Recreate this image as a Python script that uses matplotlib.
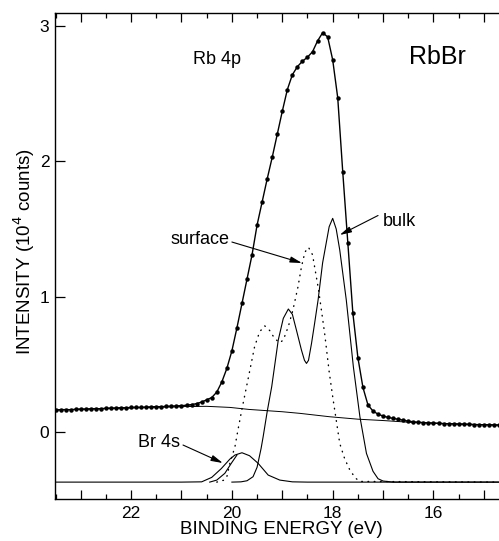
import matplotlib
matplotlib.use("Agg")
import matplotlib.pyplot as plt
from matplotlib.ticker import MultipleLocator, FuncFormatter

plt.rcParams['font.family'] = ['Liberation Sans', 'DejaVu Sans']

# ── Data (binding energy in eV, intensity in 1e4 counts) ──
data_energy = [23.5, 23.4, 23.3, 23.2, 23.1, 23.0, 22.9, 22.8, 22.7, 22.6,
               22.5, 22.4, 22.3, 22.2, 22.1, 22.0, 21.9, 21.8, 21.7, 21.6,
               21.5, 21.4, 21.3, 21.2, 21.1, 21.0, 20.9, 20.8, 20.7, 20.6,
               20.5, 20.4, 20.3, 20.2, 20.1, 20.0, 19.9, 19.8, 19.7, 19.6,
               19.5, 19.4, 19.3, 19.2, 19.1, 19.0, 18.9, 18.8, 18.7, 18.6,
               18.5, 18.4, 18.3, 18.2, 18.1, 18.0, 17.9, 17.8, 17.7, 17.6,
               17.5, 17.4, 17.3, 17.2, 17.1, 17.0, 16.9, 16.8, 16.7, 16.6,
               16.5, 16.4, 16.3, 16.2, 16.1, 16.0, 15.9, 15.8, 15.7, 15.6,
               15.5, 15.4, 15.3, 15.2, 15.1, 15.0, 14.9, 14.8, 14.7]
data_counts = [0.163, 0.165, 0.166, 0.165, 0.168, 0.170, 0.169, 0.172, 0.173, 0.172,
               0.176, 0.177, 0.178, 0.180, 0.179, 0.182, 0.183, 0.182, 0.185, 0.186,
               0.188, 0.187, 0.190, 0.191, 0.193, 0.195, 0.198, 0.203, 0.210, 0.222,
               0.238, 0.255, 0.295, 0.37, 0.47, 0.60, 0.77, 0.95, 1.13, 1.31,
               1.53, 1.70, 1.87, 2.03, 2.20, 2.37, 2.53, 2.64, 2.70, 2.74,
               2.77, 2.81, 2.89, 2.95, 2.92, 2.75, 2.47, 1.92, 1.40, 0.88,
               0.55, 0.33, 0.20, 0.155, 0.132, 0.118, 0.108, 0.101, 0.094, 0.088,
               0.080, 0.076, 0.072, 0.070, 0.067, 0.066, 0.064, 0.062, 0.061, 0.060,
               0.058, 0.058, 0.056, 0.055, 0.054, 0.054, 0.053, 0.052, 0.052]

bg_energy = [23.5, 22.0, 21.0, 20.5, 20.04, 19.66, 19.0, 18.65, 18.06, 17.5,
             17.0, 16.47, 15.5, 14.7]
bg_counts = [0.163, 0.178, 0.188, 0.190, 0.182, 0.167, 0.150, 0.138, 0.113, 0.095,
             0.085, 0.072, 0.060, 0.052]

bulk_energy = [20.0, 19.82, 19.70, 19.58, 19.50, 19.42, 19.38, 19.30, 19.21, 19.08,
               18.98, 18.88, 18.80, 18.72, 18.62, 18.56, 18.52, 18.48, 18.42, 18.36,
               18.29, 18.20, 18.07, 18.00, 17.93, 17.86, 17.73, 17.59, 17.46, 17.33,
               17.20, 17.10, 17.00, 16.80, 14.70]
bulk_counts = [-0.37, -0.368, -0.36, -0.33, -0.26, -0.12, -0.035, 0.15, 0.335, 0.68,
               0.84, 0.909, 0.87, 0.754, 0.606, 0.53, 0.507, 0.53, 0.655, 0.80,
               0.975, 1.25, 1.517, 1.579, 1.50, 1.345, 0.975, 0.483, 0.113, -0.158,
               -0.29, -0.345, -0.362, -0.37, -0.37]

surf_energy = [20.30, 20.15, 20.10, 20.04, 19.94, 19.88, 19.80, 19.71, 19.62, 19.55,
               19.45, 19.35, 19.25, 19.15, 19.05, 18.98, 18.88, 18.79, 18.69, 18.62,
               18.55, 18.48, 18.40, 18.28, 18.16, 18.07, 17.99, 17.86, 17.76, 17.66,
               17.55, 17.46, 14.70]
surf_counts = [-0.37, -0.355, -0.33, -0.23, -0.11, 0.015, 0.17, 0.335, 0.50, 0.63,
               0.74, 0.785, 0.75, 0.69, 0.66, 0.68, 0.78, 0.90, 1.07, 1.22,
               1.33, 1.365, 1.31, 1.05, 0.73, 0.446, 0.236, -0.084, -0.20, -0.28,
               -0.34, -0.365, -0.37]

br4s_energy = [23.5, 21.0, 20.60, 20.40, 20.21, 20.04, 19.94, 19.80, 19.65, 19.48,
               19.28, 19.05, 18.80, 18.50, 14.70]
br4s_counts = [-0.37, -0.37, -0.368, -0.335, -0.27, -0.20, -0.17, -0.153, -0.175, -0.231,
               -0.318, -0.355, -0.368, -0.37, -0.37]

br4s_b_energy = [20.44, 20.30, 20.14, 20.01, 19.90]
br4s_b_counts = [-0.37, -0.355, -0.305, -0.23, -0.17]

# ── Figure ──
fig = plt.figure(figsize=(4.99, 5.41), dpi=100)
ax = fig.add_axes([55 / 499, 1 - 499.3 / 541, 1 - 55 / 499, (499.3 - 13.3) / 541])

lw = 0.8
ax.plot(bg_energy, bg_counts, color="k", lw=0.7)
ax.plot(br4s_energy, br4s_counts, color="k", lw=lw)
ax.plot(br4s_b_energy, br4s_b_counts, color="k", lw=lw)
ax.plot(bulk_energy, bulk_counts, color="k", lw=lw)
ax.plot(surf_energy, surf_counts, color="k", lw=1.0, linestyle=(0, (0.5, 4.0)),
        dash_capstyle="round")
ax.plot(data_energy, data_counts, color="k", lw=1.0,
        marker="o", markersize=3.2, markeredgewidth=0)

# ── Labels and arrows ──
fs = 13
ax.text(20.30, 2.756, "Rb 4p", fontsize=fs, ha="center", va="center")
ax.text(15.93, 2.77, "RbBr", fontsize=18, ha="center", va="center")
ax.text(20.64, 1.419, "surface", fontsize=fs, ha="center", va="center")
ax.text(16.67, 1.552, "bulk", fontsize=fs, ha="center", va="center")
ax.text(21.45, -0.081, "Br 4s", fontsize=fs, ha="center", va="center")

arrow = dict(arrowstyle="-|>,head_length=0.7,head_width=0.18", lw=0.8, color="k",
             shrinkA=0, shrinkB=0)
ax.annotate("", xy=(18.61, 1.249), xytext=(20.0, 1.404), arrowprops=arrow)
ax.annotate("", xy=(17.86, 1.456), xytext=(17.10, 1.60), arrowprops=arrow)
ax.annotate("", xy=(20.18, -0.229), xytext=(20.97, -0.096), arrowprops=arrow)

# ── Axes ──
ax.set_xlim(23.51, 14.70)
ax.set_ylim(-0.497, 3.094)

ax.xaxis.set_major_locator(MultipleLocator(1))
ax.xaxis.set_minor_locator(MultipleLocator(0.5))
ax.xaxis.set_major_formatter(FuncFormatter(
    lambda v, p: f"{int(round(v))}" if int(round(v)) % 2 == 0 else ""))
ax.set_yticks([0, 1, 2, 3])

ax.tick_params(axis="x", which="both", direction="in", top=True, labelsize=12.5, pad=5)
ax.tick_params(axis="x", which="major", length=6.5, width=0.9)
ax.tick_params(axis="x", which="minor", length=3.5, width=0.9)
ax.tick_params(axis="y", which="major", direction="in", length=7.5, width=0.9,
               labelsize=12.5, pad=4)
ax.spines["right"].set_visible(False)
for s in ("left", "bottom", "top"):
    ax.spines[s].set_linewidth(1.0)

fig.text(281.5 / 499, 1 - 529 / 541, "BINDING ENERGY (eV)", fontsize=13.5,
         ha="center", va="center")
fig.text(24 / 499, 1 - 252 / 541, "INTENSITY (10$^4$ counts)", fontsize=13.5,
         ha="center", va="center", rotation=90)

fig.savefig("out.png", dpi=100)
